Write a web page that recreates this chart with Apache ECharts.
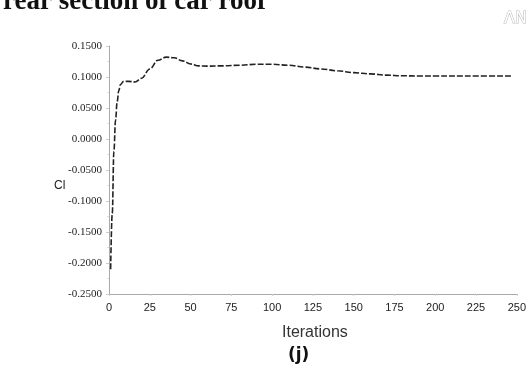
<!DOCTYPE html>
<html style="height: 100%">
<head>
    <meta charset="utf-8">
    <script src="https://cdn.jsdelivr.net/npm/echarts@6/dist/echarts.min.js"></script>
</head>
<body style="height: 100%; margin: 0; background: #fff">
    <div id="main" style="width:529px;height:372px;"></div>
    <script type="text/javascript">
    // convergence history of Cl
    var iterations = [1, 2, 3, 4, 5, 6, 7, 9, 12, 16, 20, 25, 30, 35, 40, 45, 50, 55, 60, 70, 80, 90, 100, 110, 120, 130, 140, 150, 160, 170, 180, 190, 200, 225, 247];
    var clValues = [-0.21, -0.12, -0.02, 0.03, 0.06, 0.078, 0.088, 0.093, 0.093, 0.092, 0.098, 0.113, 0.127, 0.132, 0.131, 0.126, 0.121, 0.118, 0.1175, 0.118, 0.119, 0.1205, 0.1205, 0.119, 0.116, 0.113, 0.11, 0.107, 0.105, 0.103, 0.102, 0.1015, 0.1015, 0.1015, 0.1015];
    var xTicks = [0, 25, 50, 75, 100, 125, 150, 175, 200, 225, 250];

    var myChart = echarts.init(document.getElementById('main'));
    var pts = iterations.map(function (it, i) { return [it, clValues[i]]; });

    var option = {
        animation: false,
        title: [{
            text: 'rear section of car roof',
            left: -2, top: -16,
            textStyle: { fontFamily: 'Liberation Serif', fontWeight: 'bold', fontSize: 27, color: '#111' }
        }, {
            text: '(j)',
            left: 283, top: 342,
            textStyle: { fontFamily: 'DejaVu Sans', fontWeight: 'bold', fontSize: 17, color: '#111' }
        }, {
            text: 'Cl',
            left: 49, top: 175,
            textStyle: { fontFamily: 'Liberation Sans', fontWeight: 'normal', fontSize: 12, color: '#222' }
        }, {
            text: 'Iterations',
            left: 277, top: 320,
            textStyle: { fontFamily: 'Liberation Sans', fontWeight: 'normal', fontSize: 16, color: '#333' }
        }, {
            text: 'ΛN',
            right: -4, top: 6,
            textStyle: { fontFamily: 'DejaVu Sans', fontWeight: 'normal', fontSize: 16, color: '#fff', textBorderColor: '#bbb', textBorderWidth: 1 }
        }],
        grid: { left: 109, right: 12, top: 46, bottom: 78 },
        xAxis: {
            type: 'value',
            min: 0, max: 250, interval: 25,
            axisLine: { onZero: false, lineStyle: { color: '#aaa' } },
            axisTick: { show: true, length: 2, lineStyle: { color: '#ccc' } },
            axisLabel: {
                margin: 8, color: '#222', fontFamily: 'Liberation Sans', fontSize: 11,
                formatter: function (v) { return xTicks.indexOf(v) >= 0 ? String(v) : ''; }
            },
            splitLine: { show: false }
        },
        yAxis: {
            type: 'value',
            min: -0.25, max: 0.15, interval: 0.05,
            axisLine: { show: true, lineStyle: { color: '#aaa' } },
            axisTick: { show: true, length: 3, lineStyle: { color: '#ccc' } },
            minorTick: { show: true, splitNumber: 2, length: 2, lineStyle: { color: '#ddd' } },
            axisLabel: {
                margin: 7, color: '#222', fontFamily: 'Liberation Serif', fontSize: 11,
                formatter: function (v) { return v.toFixed(4); }
            },
            splitLine: { show: false }
        },
        series: [{
            type: 'line',
            data: pts,
            showSymbol: false,
            smooth: 0.4,
            smoothMonotone: 'x',
            lineStyle: { color: '#222', width: 1.6, type: [6, 2] }
        }]
    };
    myChart.setOption(option, true);
    </script>
</body>
</html>
